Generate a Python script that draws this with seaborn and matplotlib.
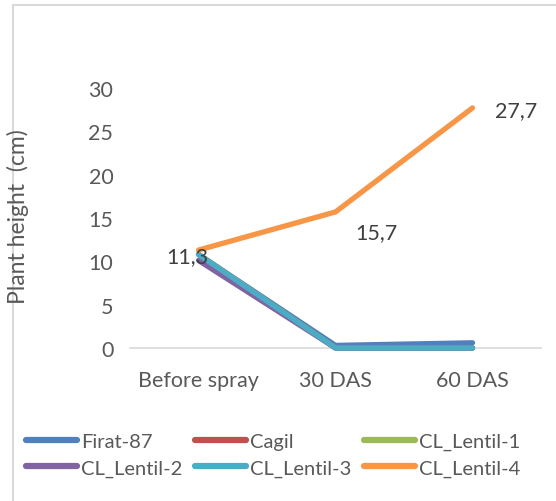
import matplotlib
matplotlib.use("Agg")
import matplotlib.pyplot as plt
import seaborn as sns
import pandas as pd
from matplotlib.patches import Rectangle

categories = ["Before spray", "30 DAS", "60 DAS"]
firat_87 = [10.8, 0.3, 0.6]
cagil = [10.8, 0.0, 0.0]
cl_lentil_1 = [10.8, 0.0, 0.0]
cl_lentil_2 = [10.1, 0.0, 0.0]
cl_lentil_3 = [10.8, 0.0, 0.0]
cl_lentil_4 = [11.3, 15.7, 27.7]
series_names = ["Firat-87", "Cagil", "CL_Lentil-1", "CL_Lentil-2", "CL_Lentil-3", "CL_Lentil-4"]
series_values = [firat_87, cagil, cl_lentil_1, cl_lentil_2, cl_lentil_3, cl_lentil_4]
label_values = cl_lentil_4
yticks = [0, 5, 10, 15, 20, 25, 30]

colors = ["#4F81BD", "#C0504D", "#9BBB59", "#8064A2", "#4BACC6", "#F79646"]

rows = []
for name, vals in zip(series_names, series_values):
    for c, v in zip(categories, vals):
        rows.append({"Stage": c, "Height": v, "Series": name})
df = pd.DataFrame(rows)

sns.set_theme(style="white")
plt.rcParams["font.family"] = ["Lato", "DejaVu Sans"]
txt = "#595959"

fig = plt.figure(figsize=(5.56, 5.02), dpi=100)
W, H = 556, 502
ax = fig.add_axes([130 / W, (H - 349) / H, (541 - 130) / W, 260 / H])

sns.lineplot(data=df, x="Stage", y="Height", hue="Series", hue_order=series_names,
             palette=colors, linewidth=3.8, sort=False, ax=ax, legend=True,
             solid_capstyle="round")
for ln in ax.lines:
    ln.set_clip_on(False)

ax.set_xlim(-0.5, 2.5)
ax.set_ylim(0, 30)
ax.set_yticks(yticks)
ax.set_yticklabels([str(t) for t in yticks])
for s in ["top", "right", "left"]:
    ax.spines[s].set_visible(False)
ax.spines["bottom"].set_color("#D9D9D9")
ax.spines["bottom"].set_linewidth(1.2)
ax.spines["bottom"].set_zorder(0)
ax.tick_params(axis="y", length=0, pad=12, labelsize=15.5, labelcolor=txt)
ax.tick_params(axis="x", length=0, pad=16, labelsize=15.5, labelcolor=txt)
ax.set_xlabel("")
ax.set_ylabel("")

# data labels
offsets = [(10, -6, "right", "center"), (20, -20, "left", "center"), (23, -2, "left", "center")]
for i, (v, (dx, dy, ha, va)) in enumerate(zip(label_values, offsets)):
    ax.annotate(f"{v:.1f}".replace(".", ","), (i, v), xytext=(dx, dy),
                textcoords="offset pixels", ha=ha, va=va, fontsize=15.5, color="#404040")

fig.text(18 / W, 1 - 217 / H, "Plant height  (cm)", rotation=90, ha="center", va="center",
         fontsize=16.5, color=txt)

handles, labels = ax.get_legend_handles_labels()
ax.get_legend().remove()
for h in handles:
    h.set_linewidth(4.5)
    h.set_solid_capstyle("round")
order = [0, 3, 1, 4, 2, 5]
fig.legend([handles[i] for i in order], [labels[i] for i in order], ncol=3,
           loc="upper left", bbox_to_anchor=(26 / W, 1 - 434 / H),
           frameon=False, fontsize=14.5, handlelength=2.55, handletextpad=0.2,
           columnspacing=0.6, labelspacing=0.45, labelcolor=txt, borderaxespad=0,
           borderpad=0)

fig.patches.append(Rectangle((13 / W, -0.1), 1.2, (1 - 6 / H) + 0.1, transform=fig.transFigure,
                             fill=False, edgecolor="#D9D9D9", linewidth=1.5, zorder=0))

fig.savefig("out.png", dpi=100)
